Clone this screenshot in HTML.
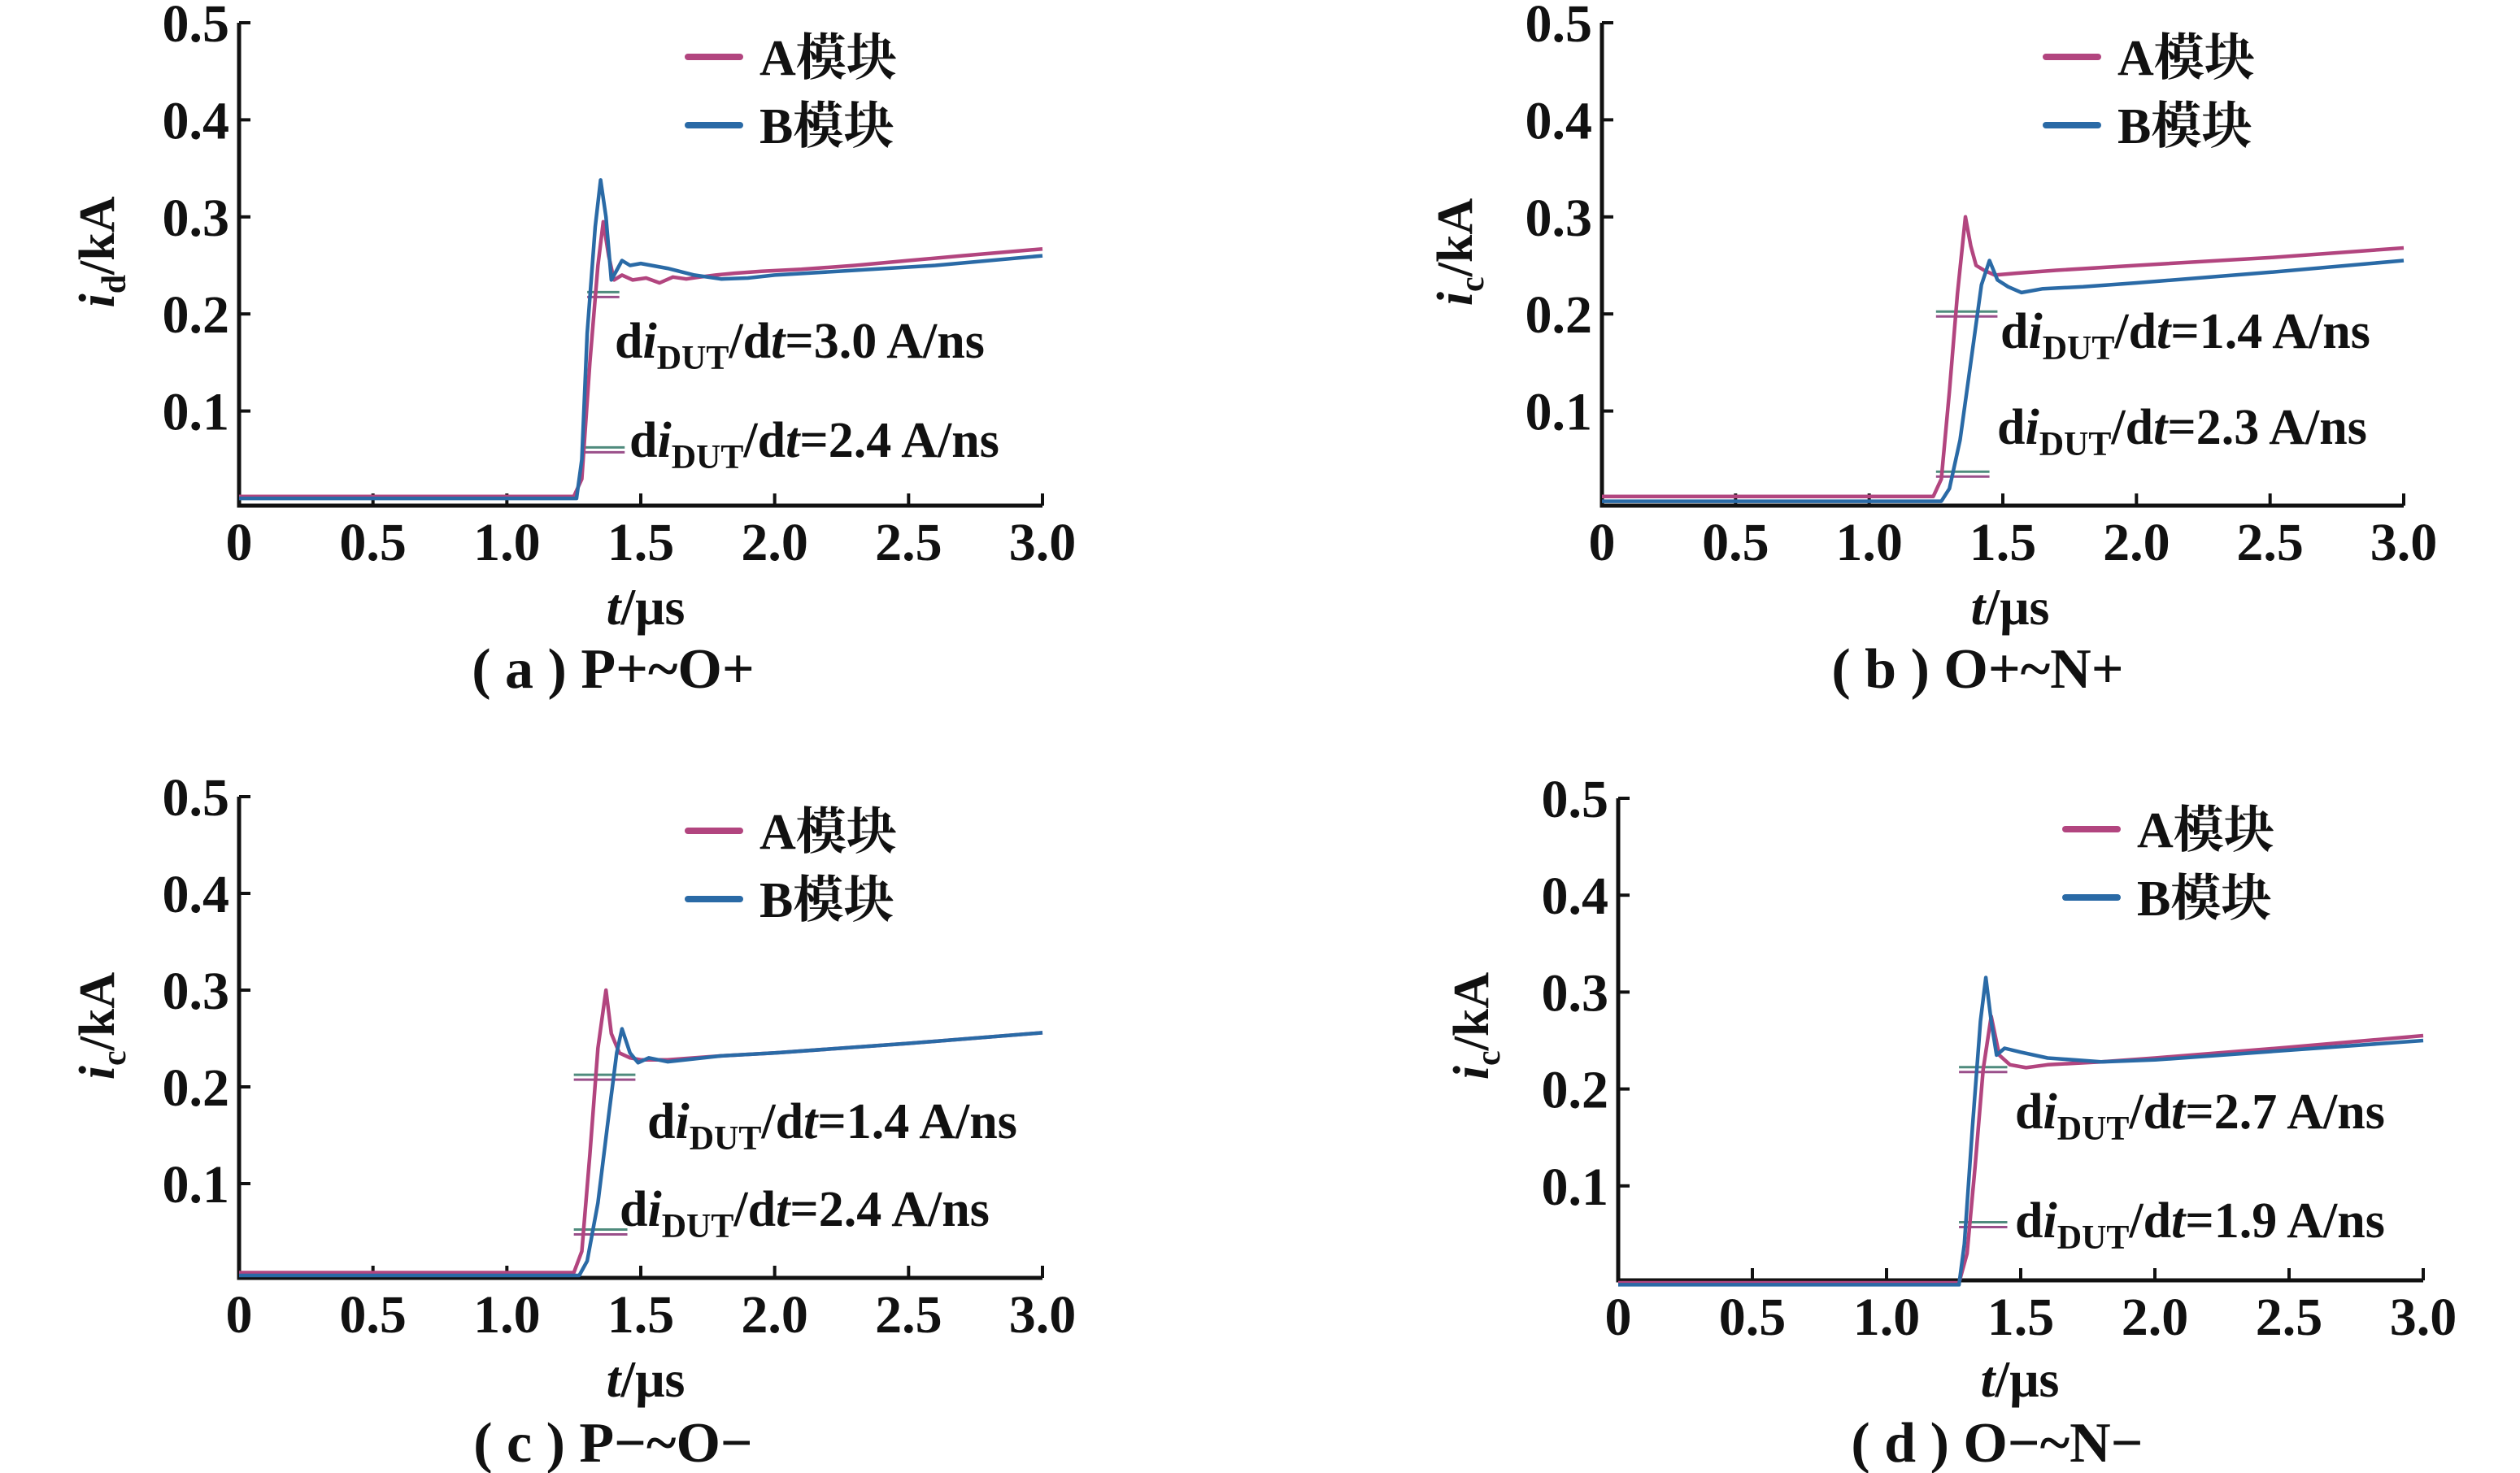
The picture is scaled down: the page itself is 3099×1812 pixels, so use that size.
<!DOCTYPE html>
<html><head><meta charset="utf-8"><style>
html,body{margin:0;padding:0;background:#fff}
svg{display:block}
text{font-family:"Liberation Serif","Noto Serif CJK SC",serif;fill:#111}
</style></head><body>
<svg id="c" width="3099" height="1812" viewBox="0 0 3099 1812" xmlns="http://www.w3.org/2000/svg"></svg>
<script>
const xTicks=[0,0.5,1.0,1.5,2.0,2.5,3.0];
const xTickLabels=["0","0.5","1.0","1.5","2.0","2.5","3.0"];
const yTicks=[0.1,0.2,0.3,0.4,0.5];
const yTickLabels=["0.1","0.2","0.3","0.4","0.5"];
const seriesNames=["A模块","B模块"];
// panel a
const tA_a=[0,1.25,1.28,1.31,1.34,1.36,1.38,1.40,1.43,1.47,1.52,1.57,1.62,1.67,1.72,1.78,1.85,1.95,2.1,2.3,2.5,2.7,3.0];
const vA_a=[0.012,0.012,0.03,0.15,0.25,0.295,0.26,0.235,0.24,0.235,0.237,0.232,0.238,0.236,0.238,0.24,0.242,0.244,0.246,0.25,0.255,0.26,0.267];
const tB_a=[0,1.26,1.28,1.30,1.33,1.35,1.37,1.39,1.41,1.43,1.46,1.5,1.6,1.7,1.8,1.9,2.0,2.3,2.6,3.0];
const vB_a=[0.01,0.01,0.05,0.18,0.29,0.338,0.3,0.235,0.245,0.255,0.25,0.252,0.247,0.24,0.236,0.237,0.24,0.245,0.25,0.26];
// panel b
const tA_b=[0,1.24,1.27,1.30,1.33,1.36,1.38,1.40,1.43,1.47,1.55,1.7,2.0,2.5,3.0];
const vA_b=[0.012,0.012,0.03,0.12,0.22,0.30,0.27,0.25,0.245,0.24,0.242,0.245,0.25,0.258,0.268];
const tB_b=[0,1.27,1.30,1.34,1.38,1.42,1.45,1.48,1.52,1.57,1.65,1.8,2.0,2.5,3.0];
const vB_b=[0.007,0.007,0.02,0.07,0.15,0.23,0.255,0.235,0.228,0.222,0.226,0.228,0.232,0.243,0.255];
// panel c
const tA_c=[0,1.25,1.28,1.31,1.34,1.37,1.39,1.42,1.46,1.5,1.6,1.8,2.0,2.5,3.0];
const vA_c=[0.008,0.008,0.03,0.13,0.24,0.30,0.255,0.235,0.23,0.228,0.228,0.232,0.235,0.245,0.256];
const tB_c=[0,1.27,1.30,1.34,1.38,1.41,1.43,1.46,1.49,1.53,1.6,1.8,2.0,2.5,3.0];
const vB_c=[0.005,0.005,0.02,0.08,0.17,0.235,0.26,0.235,0.225,0.23,0.226,0.232,0.235,0.245,0.256];
// panel d
const tA_d=[0,1.27,1.30,1.33,1.36,1.39,1.42,1.46,1.52,1.6,1.8,2.0,2.5,3.0];
const vA_d=[0.0,0.0,0.03,0.12,0.22,0.275,0.235,0.225,0.222,0.225,0.228,0.232,0.243,0.255];
const tB_d=[0,1.27,1.29,1.32,1.35,1.37,1.39,1.41,1.44,1.5,1.6,1.8,2.0,2.5,3.0];
const vB_d=[-0.002,-0.002,0.04,0.16,0.27,0.315,0.27,0.235,0.242,0.238,0.232,0.228,0.23,0.24,0.25];

const panels=[
 {id:'a',x0:294,x1:1282,y0:625,yTop:28,yl:'d',ylx:120,yly:310,tA:tA_a,vA:vA_a,tB:tB_a,vB:vB_a,
  legX:846,legY:70,cap:'( a ) P+~O+',capX:754,capY:846,tlx:794,tly:768,
  marks:[[0.22,1.30,1.42],[0.06,1.29,1.44]],ann:[[756,440,'3.0'],[774,562,'2.4']]},
 {id:'b',x0:1970,x1:2956,y0:625,yTop:28,yl:'c',ylx:1790,yly:310,tA:tA_b,vA:vA_b,tB:tB_b,vB:vB_b,
  legX:2516,legY:70,cap:'( b ) O+~N+',capX:2432,capY:846,tlx:2472,tly:768,
  marks:[[0.20,1.25,1.48],[0.035,1.25,1.45]],ann:[[2460,428,'1.4'],[2456,546,'2.3']]},
 {id:'c',x0:294,x1:1282,y0:1575,yTop:980,yl:'c',ylx:120,yly:1262,tA:tA_c,vA:vA_c,tB:tB_c,vB:vB_c,
  legX:846,legY:1022,cap:'( c ) P−~O−',capX:754,capY:1798,tlx:794,tly:1718,
  marks:[[0.21,1.25,1.48],[0.05,1.25,1.45]],ann:[[796,1400,'1.4'],[762,1508,'2.4']]},
 {id:'d',x0:1990,x1:2980,y0:1578,yTop:982,yl:'c',ylx:1810,yly:1262,tA:tA_d,vA:vA_d,tB:tB_d,vB:vB_d,
  legX:2540,legY:1020,cap:'( d ) O−~N−',capX:2456,capY:1798,tlx:2484,tly:1718,
  marks:[[0.22,1.27,1.45],[0.06,1.27,1.45]],ann:[[2478,1388,'2.7'],[2478,1522,'1.9']]}
];
const NS='http://www.w3.org/2000/svg';
const svg=document.getElementById('c');
function mk(tag,at,parent){const e=document.createElementNS(NS,tag);for(const k in at)e.setAttribute(k,at[k]);(parent||svg).appendChild(e);return e;}
const colA='#b2457f',colB='#2a6aa6';
panels.forEach(p=>{
 const g=mk('g',{});
 
 
 const sx=t=>p.x0+(p.x1-p.x0)*t/3.0;
 const sy=v=>p.y0-(p.y0-p.yTop)*v/0.5;
 const ax=mk('path',{d:`M${p.x0} ${p.yTop} V${p.y0-3} H${p.x1}`,stroke:'#111','stroke-width':5,fill:'none'},g);
 
 
 xTicks.forEach((t,i)=>{
  mk('line',{x1:sx(t),x2:sx(t),y1:p.y0-3,y2:p.y0-18,stroke:'#111','stroke-width':4},g);
  const tx=mk('text',{x:sx(t),y:p.y0+64,'font-size':66,'text-anchor':'middle','font-weight':'bold'},g);
  tx.textContent=xTickLabels[i];
  
  
 });
 yTicks.forEach((v,i)=>{
  mk('line',{x1:p.x0,x2:p.x0+14,y1:sy(v),y2:sy(v),stroke:'#111','stroke-width':4},g);
  const tx=mk('text',{x:p.x0-12,y:sy(v)+23,'font-size':66,'text-anchor':'end','font-weight':'bold'},g);
  tx.textContent=yTickLabels[i];
  
  
 });
 const yl=mk('text',{x:0,y:0,'font-size':62,'font-weight':'bold','text-anchor':'middle',transform:`translate(${p.ylx+20},${p.yly}) rotate(-90)`},g);
 yl.innerHTML=`<tspan font-style="italic">i</tspan><tspan font-size="42" dy="14">${p.yl}</tspan><tspan dy="-14">/kA</tspan>`;
 
 
 const xl=mk('text',{x:p.tlx,y:p.tly,'font-size':64,'font-weight':'bold','text-anchor':'middle'},g);
 xl.innerHTML='<tspan font-style="italic">t</tspan>/μs';
 
 
 const cp=mk('text',{x:p.capX,y:p.capY,'font-size':70,'font-weight':'bold','text-anchor':'middle'},g);
 cp.textContent=p.cap;
 
 
 p.marks.forEach(m=>{
  mk('line',{x1:sx(m[1]),x2:sx(m[2]),y1:sy(m[0])-3,y2:sy(m[0])-3,stroke:'#4f8b7d','stroke-width':3},g);
  mk('line',{x1:sx(m[1]),x2:sx(m[2]),y1:sy(m[0])+3,y2:sy(m[0])+3,stroke:'#9a4f8a','stroke-width':3},g);
 });
 [[p.tA,p.vA,colA,'series-a'],[p.tB,p.vB,colB,'series-b']].forEach(s=>{
  const d=s[0].map((t,i)=>(i?'L':'M')+sx(t).toFixed(1)+' '+sy(s[1][i]).toFixed(1)).join(' ');
  const pl=mk('path',{d:d,stroke:s[2],'stroke-width':4.5,fill:'none','stroke-linejoin':'round'},g);
  
  
 });
 p.ann.forEach(a=>{
  const t=mk('text',{x:a[0],y:a[1],'font-size':62,'font-weight':'bold'},g);
  t.innerHTML=`d<tspan font-style="italic">i</tspan><tspan font-size="42" dy="14">DUT</tspan><tspan dy="-14">/d</tspan><tspan font-style="italic">t</tspan>=${a[2]} A/ns`;
  
  
 });
 seriesNames.forEach((n,i)=>{
  const y=p.legY+i*84;
  mk('line',{x1:p.legX,x2:p.legX+64,y1:y,y2:y,stroke:i?colB:colA,'stroke-width':8,'stroke-linecap':'round'},g);
  const t=mk('text',{x:p.legX+88,y:y+22,'font-size':62,'font-weight':'bold'},g);
  t.textContent=n;
  
  
 });
});
</script>
</body></html>
